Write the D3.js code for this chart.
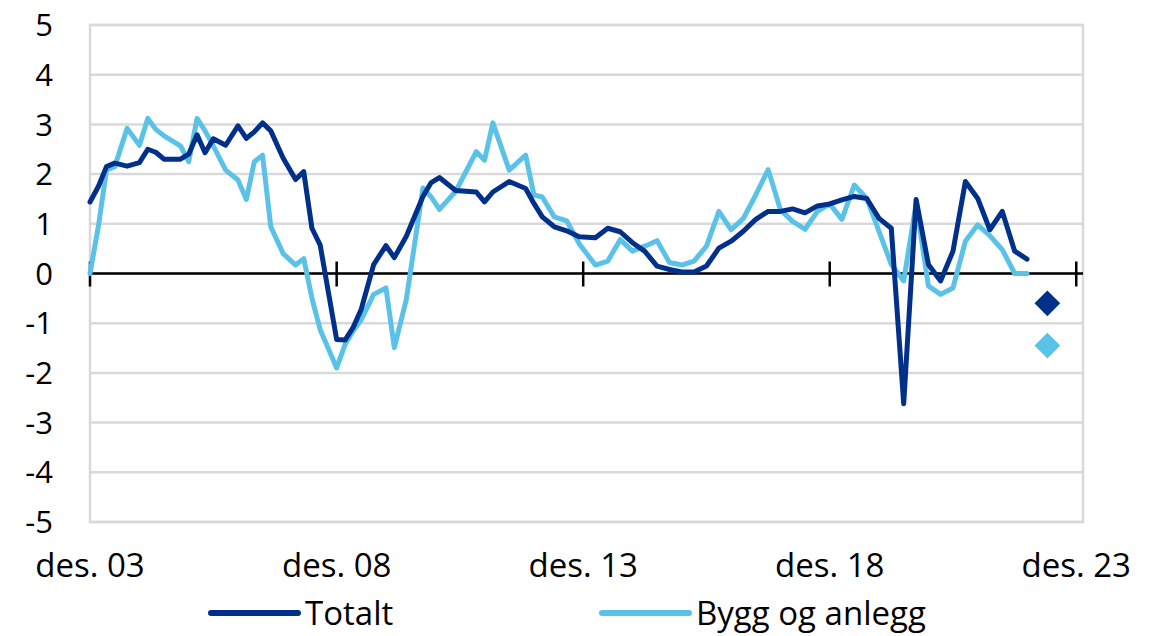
<!DOCTYPE html>
<html>
<head>
<meta charset="utf-8">
<script src="https://cdn.jsdelivr.net/npm/d3@7"></script>
<style>
    body { margin: 0; background: #fff; }
    svg { display: block; font-family: "Open Sans", "Noto Sans", sans-serif; }
</style>
</head>
<body>
<svg id="chart"></svg>
<script>
// survey dates (year-month) and values for both series
const dates = [
    "2003-12", "2004-02", "2004-04", "2004-06", "2004-09", "2004-12", "2005-02", "2005-04", "2005-06", "2005-10",
    "2005-12", "2006-02", "2006-04", "2006-06", "2006-09", "2006-12", "2007-02", "2007-04", "2007-06", "2007-08",
    "2007-11", "2008-02", "2008-04", "2008-06", "2008-08", "2008-12", "2009-02", "2009-04", "2009-06", "2009-09",
    "2009-12", "2010-02", "2010-05", "2010-09", "2010-11", "2011-01", "2011-05", "2011-10", "2011-12", "2012-02",
    "2012-06", "2012-10", "2012-12", "2013-02", "2013-05", "2013-08", "2013-11", "2014-03", "2014-06", "2014-09",
    "2014-12", "2015-03", "2015-06", "2015-09", "2015-12", "2016-03", "2016-06", "2016-09", "2016-12", "2017-03",
    "2017-06", "2017-09", "2017-12", "2018-03", "2018-06", "2018-09", "2018-12", "2019-03", "2019-06", "2019-09",
    "2019-12", "2020-03", "2020-06", "2020-09", "2020-12", "2021-03", "2021-06", "2021-09", "2021-12", "2022-03",
    "2022-06", "2022-09", "2022-12"
];

const totalt = [
    1.44, 1.75, 2.15, 2.22, 2.16, 2.23, 2.50, 2.44, 2.30, 2.30,
    2.40, 2.79, 2.43, 2.71, 2.58, 2.97, 2.72, 2.85, 3.03, 2.87,
    2.32, 1.89, 2.05, 0.91, 0.57, -1.33, -1.34, -1.09, -0.72, 0.18,
    0.56, 0.32, 0.75, 1.55, 1.83, 1.93, 1.67, 1.64, 1.44, 1.64,
    1.85, 1.71, 1.41, 1.14, 0.94, 0.86, 0.74, 0.72, 0.91, 0.84,
    0.62, 0.45, 0.15, 0.08, 0.03, 0.03, 0.15, 0.51, 0.65, 0.85,
    1.09, 1.25, 1.25, 1.30, 1.22, 1.36, 1.40, 1.48, 1.55, 1.51,
    1.11, 0.91, -2.62, 1.49, 0.18, -0.15, 0.45, 1.85, 1.51, 0.88,
    1.25, 0.45, 0.29
];

const byggOgAnlegg = [
    0.00, 0.95, 2.08, 2.15, 2.92, 2.58, 3.12, 2.90, 2.77, 2.57,
    2.25, 3.12, 2.87, 2.57, 2.08, 1.88, 1.49, 2.25, 2.38, 0.94,
    0.40, 0.17, 0.30, -0.50, -1.13, -1.90, -1.43, -1.16, -0.93, -0.42,
    -0.29, -1.49, -0.52, 1.72, 1.54, 1.29, 1.65, 2.45, 2.28, 3.03,
    2.08, 2.38, 1.58, 1.54, 1.14, 1.06, 0.60, 0.17, 0.25, 0.68,
    0.45, 0.55, 0.66, 0.22, 0.17, 0.25, 0.55, 1.25, 0.88, 1.11,
    1.58, 2.09, 1.28, 1.05, 0.89, 1.25, 1.40, 1.09, 1.78, 1.51,
    0.85, 0.18, -0.15, 1.41, -0.25, -0.42, -0.29, 0.65, 0.98, 0.76,
    0.48, 0.00, 0.00
];

// expected change, shown as diamonds
const forecastDate = "2023-05";
const forecastTotalt = -0.6;
const forecastBygg = -1.45;

const seriesNames = ["Totalt", "Bygg og anlegg"];
const seriesColors = ["#00308a", "#5bc2e7"];

const yTicks = [-5, -4, -3, -2, -1, 0, 1, 2, 3, 4, 5];
const xTickDates = ["2003-12", "2008-12", "2013-12", "2018-12", "2023-12"];
const xTickLabels = ["des. 03", "des. 08", "des. 13", "des. 18", "des. 23"];

const parseMonth = d3.timeParse("%Y-%m");

class LineChart {
    constructor(_config) {
        this.config = {
            parentElement: _config.parentElement,
            containerWidth: 1160,
            containerHeight: 636,
            margin: { top: 25, right: 77, bottom: 114, left: 90 }
        };
        this.initVis();
    }

    initVis() {
        let vis = this;
        vis.width = vis.config.containerWidth - vis.config.margin.left - vis.config.margin.right;
        vis.height = vis.config.containerHeight - vis.config.margin.top - vis.config.margin.bottom;

        vis.svg = d3.select(vis.config.parentElement)
            .attr("width", vis.config.containerWidth)
            .attr("height", vis.config.containerHeight);

        vis.chart = vis.svg.append("g")
            .attr("transform", `translate(${vis.config.margin.left},${vis.config.margin.top})`);

        // axis runs a little past des. 23
        vis.xScale = d3.scaleTime()
            .domain([parseMonth("2003-12"), new Date(2024, 0, 20)])
            .range([0, vis.width]);
        vis.yScale = d3.scaleLinear().domain([-5, 5]).range([vis.height, 0]);

        vis.renderVis();
    }

    renderVis() {
        let vis = this;
        const grey = "#d9d9d9";

        // gridlines
        vis.chart.selectAll(".grid")
            .data(yTicks)
            .join("line")
            .attr("class", "grid")
            .attr("x1", 0)
            .attr("x2", vis.width)
            .attr("y1", d => vis.yScale(d))
            .attr("y2", d => vis.yScale(d))
            .attr("stroke", grey)
            .attr("stroke-width", 2.5);

        // plot frame
        vis.chart.append("rect")
            .attr("width", vis.width)
            .attr("height", vis.height)
            .attr("fill", "none")
            .attr("stroke", grey)
            .attr("stroke-width", 2.5);

        // y labels
        vis.chart.selectAll(".ylab")
            .data(yTicks)
            .join("text")
            .attr("class", "ylab")
            .attr("x", -37)
            .attr("y", d => vis.yScale(d))
            .attr("dy", "0.36em")
            .attr("text-anchor", "end")
            .attr("font-size", 31)
            .attr("fill", "#000")
            .text(d => d);

        // zero axis with crossing ticks
        const y0 = vis.yScale(0);
        vis.chart.append("line")
            .attr("x1", 0)
            .attr("x2", vis.width)
            .attr("y1", y0)
            .attr("y2", y0)
            .attr("stroke", "#000")
            .attr("stroke-width", 2.5);

        vis.chart.selectAll(".xtick")
            .data(xTickDates)
            .join("line")
            .attr("class", "xtick")
            .attr("x1", d => vis.xScale(parseMonth(d)))
            .attr("x2", d => vis.xScale(parseMonth(d)))
            .attr("y1", y0 - 12)
            .attr("y2", y0 + 13)
            .attr("stroke", "#000")
            .attr("stroke-width", 2.5);

        vis.chart.selectAll(".xlab")
            .data(xTickDates)
            .join("text")
            .attr("class", "xlab")
            .attr("x", d => vis.xScale(parseMonth(d)))
            .attr("y", vis.height + 55)
            .attr("text-anchor", "middle")
            .attr("font-size", 33)
            .attr("fill", "#000")
            .text((d, i) => xTickLabels[i]);

        // lines
        const line = d3.line()
            .x(d => vis.xScale(d.date))
            .y(d => vis.yScale(d.value));

        const series = [totalt, byggOgAnlegg].map((vals, k) => ({
            name: seriesNames[k],
            color: seriesColors[k],
            values: vals.map((v, i) => ({ date: parseMonth(dates[i]), value: v }))
        }));

        // light series drawn first so the dark one sits on top
        vis.chart.selectAll(".series")
            .data(series.slice().reverse())
            .join("path")
            .attr("class", "series")
            .attr("d", d => line(d.values))
            .attr("fill", "none")
            .attr("stroke", d => d.color)
            .attr("stroke-width", 5)
            .attr("stroke-linejoin", "round")
            .attr("stroke-linecap", "round");

        // forecast diamonds
        const fx = vis.xScale(parseMonth(forecastDate));
        vis.chart.selectAll(".forecast")
            .data([forecastTotalt, forecastBygg])
            .join("path")
            .attr("class", "forecast")
            .attr("d", d3.symbol(d3.symbolSquare, 330))
            .attr("transform", d => `translate(${fx},${vis.yScale(d)}) rotate(45)`)
            .attr("fill", (d, i) => seriesColors[i]);

        // legend
        const legend = vis.svg.append("g").attr("class", "legend");
        const legendX = [211, 602];
        const legendY = 613;
        seriesNames.forEach((name, i) => {
            legend.append("line")
                .attr("x1", legendX[i])
                .attr("x2", legendX[i] + 87)
                .attr("y1", legendY)
                .attr("y2", legendY)
                .attr("stroke", seriesColors[i])
                .attr("stroke-width", 6)
                .attr("stroke-linecap", "round");
            legend.append("text")
                .attr("x", legendX[i] + 94)
                .attr("y", legendY + 12)
                .attr("font-size", 33)
                .attr("fill", "#000")
                .text(name);
        });
    }
}

const chart = new LineChart({ parentElement: "#chart" });
</script>
</body>
</html>
